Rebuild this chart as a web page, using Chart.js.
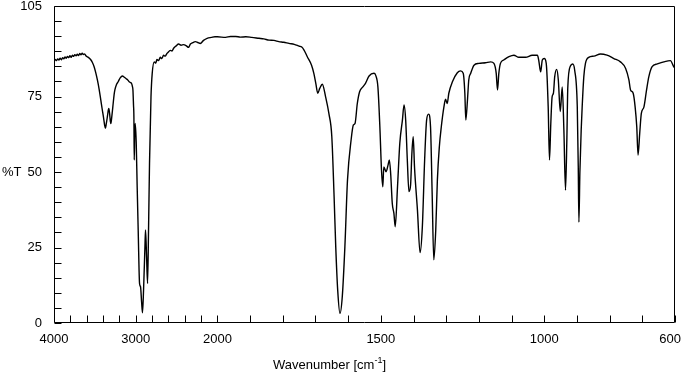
<!DOCTYPE html>
<html>
<head>
<meta charset="utf-8">
<script src="https://cdn.jsdelivr.net/npm/chart.js@4"></script>
<style>
html,body{margin:0;padding:0;background:#fff;}
#wrap{position:relative;width:683px;height:376px;}
</style>
</head>
<body>
<div id="wrap"><canvas id="c" width="683" height="376"></canvas></div>
<script>
// Wavenumber (cm-1) and %T
const wavenumbers = [
4000,3985,3970,3955,3940,3925,3910,3895,3880,3865,3850,3835,3820,3805,3790,3775,3760,3745,3730,3715,
3700,3685,3670,3655,3640,3625,3607,3580,3550,3530,3509,3490,3469,3448,3427,3410,3395,3380,3371,3360,
3346,3335,3329,3320,3310,3304,3295,3280,3265,3255,3235,3215,3190,3162,3140,3120,3100,3080,3060,3052,
3040,3034,3027,3022,3018,3013,3006,2994,2982,2969,2953,2941,2928,2917,2904,2887,2880,2867,2855,2843,
2831,2813,2798,2773,2755,2740,2720,2699,2680,2659,2640,2617,2595,2577,2556,2536,2505,2475,2445,2413,
2385,2352,2331,2300,2270,2240,2209,2170,2126,2073,2030,2000,1975,1960,1944,1930,1913,1895,1873,1858,
1842,1827,1812,1797,1781,1765,1750,1742,1735,1725,1712,1705,1699,1693,1687,1679,1669,1659,1650,1643,
1638,1632,1625,1618,1610,1602,1591,1584,1579,1572,1565,1555,1547,1536,1521,1516,1509,1503,1498,1494,
1491,1484,1478,1474,1470,1465,1460,1456,1449,1442,1434,1429,1424,1419,1414,1409,1405,1401,1397,1388,
1380,1373,1366,1360,1354,1348,1343,1338,1332,1327,1321,1315,1307,1302,1297,1292,1281,1266,1256,1248,
1243,1240,1235,1231,1225,1215,1200,1180,1164,1154,1147,1143,1139,1134,1124,1108,1093,1078,1057,1037,
1021,1017,1011,1006,1000,994,988,984,980,976,972,968,962,957,951,945,940,935,931,928,
920,913,907,899,896,894,891,887,884,879,874,864,848,828,808,787,767,751,741,736,
728,722,717,713,708,703,695,687,680,670,654,634,614,604,600
];
const transmittance = [
86.8,87.3,86.9,87.5,87.1,87.7,87.2,87.9,87.5,88.1,87.7,88.3,87.9,88.5,88.0,88.7,88.3,88.9,88.5,89.0,
88.6,89.3,88.8,89.4,88.9,89.1,88.4,88.0,87.2,86.3,84.9,83.0,80.5,77.5,73.8,70.8,68.3,65.5,64.5,66.0,
68.5,70.6,71.1,69.5,66.8,66.1,67.8,71.6,75.5,77.2,79.0,79.9,81.2,81.8,81.4,81.0,80.6,79.9,79.6,79.4,
78.3,77.2,72.2,68.0,54.0,62.0,66.1,60.0,45.0,30.0,13.1,12.0,7.0,3.4,10.9,25.3,30.8,22.0,13.1,30.8,
52.9,74.9,82.7,86.5,86.1,87.3,86.9,88.0,87.6,88.7,88.4,89.3,89.9,90.3,90.1,91.0,91.8,92.4,92.0,92.2,
91.9,91.3,92.4,92.9,93.2,92.9,92.6,93.6,94.3,94.6,94.8,94.8,94.6,94.9,94.9,94.7,94.8,94.6,94.3,94.1,
93.7,93.6,93.2,93.0,92.6,92.3,91.7,91.4,90.4,88.2,85.4,82.7,79.4,76.1,77.7,79.1,74.9,69.4,61.7,41.8,
25.3,10.9,3.2,8.7,25.3,47.4,60.6,65.6,66.1,72.7,76.6,78.2,79.4,81.8,82.7,82.1,78.2,65.0,50.7,45.1,
51.7,50.1,52.3,54.0,49.6,39.6,36.3,31.9,45.1,59.5,67.2,72.2,67.2,54.0,43.5,45.7,56.2,61.7,51.7,37.4,
23.3,31.9,54.0,67.2,69.2,65.0,42.9,20.9,30.8,47.4,58.4,65.0,71.6,74.1,72.7,76.1,79.9,82.9,83.5,82.7,
76.1,67.2,73.8,80.5,82.7,85.4,86.0,86.2,86.5,86.0,82.7,77.2,82.7,86.0,87.1,88.2,88.7,88.0,88.0,88.7,
88.7,87.1,83.2,87.1,87.6,86.0,71.6,54.0,66.1,74.9,76.1,81.6,84.0,80.5,70.0,78.2,64.0,44.0,60.0,78.0,
85.1,85.8,83.8,71.6,52.0,33.4,50.0,64.0,71.6,81.6,86.0,88.0,88.4,89.1,88.7,87.6,86.5,84.3,80.5,77.2,
76.1,71.6,65.0,55.6,62.8,69.4,71.6,77.2,81.6,84.9,85.8,86.5,86.9,84.9,84.3
];
const xTickValues = [4000,3800,3600,3400,3200,3000,2800,2600,2400,2200,2000,1900,1800,1700,1600,1500,1400,1300,1200,1100,1000,900,800,700,600];
const xLabelValues = [4000,3000,2000,1500,1000,600];
const yTickValues = [0,5,10,15,20,25,30,35,40,45,50,55,60,65,70,75,80,85,90,95,100,105];
const yLabelValues = [0,25,50,75,105];
const xTitle = 'Wavenumber [cm';
const xTitleSup = '-1';
const yTitle = '%T';

const FONT = '13px "Liberation Sans", Arial, sans-serif';

// Wavenumber axis: 4000-2000 compressed 4x relative to 2000-600
class WavenumberScale extends Chart.LinearScale {
  static id = 'wavenumber';
  static defaults = Chart.LinearScale.defaults;
  toUnits(v){ return v >= 2000 ? (4000 - v) / 4 : 500 + (2000 - v); }
  fromUnits(u){ return u <= 500 ? 4000 - 4 * u : 2000 - (u - 500); }
  getPixelForValue(v){ return this.left + this.width * this.toUnits(v) / 1900; }
  getValueForPixel(p){ return this.fromUnits((p - this.left) / this.width * 1900); }
}
Chart.register(WavenumberScale);

const framePlugin = {
  id: 'frame',
  afterDraw(chart){
    const ctx = chart.ctx, a = chart.chartArea, xs = chart.scales.x, ys = chart.scales.y;
    ctx.save();
    ctx.strokeStyle = '#000';
    ctx.lineWidth = 1;
    const L = Math.round(a.left) + 0.5, R = Math.round(a.right) - 0.5;
    const T = Math.round(a.top) + 0.5, B = Math.round(a.bottom) - 0.5;
    ctx.beginPath();
    ctx.rect(L, T, R - L, B - T);
    // inward ticks
    xTickValues.forEach(v => {
      const px = Math.round(xs.getPixelForValue(v)) + 0.5;
      ctx.moveTo(px, B); ctx.lineTo(px, B - 7);
    });
    yTickValues.forEach(v => {
      const py = Math.round(ys.getPixelForValue(v)) + 0.5;
      ctx.moveTo(L, py); ctx.lineTo(L + 7, py);
    });
    ctx.stroke();

    ctx.fillStyle = '#000';
    ctx.font = FONT;
    ctx.textBaseline = 'middle';
    ctx.textAlign = 'center';
    xLabelValues.forEach(v => {
      const s = String(v);
      const w = ctx.measureText(s).width;
      let cx = xs.getPixelForValue(v);
      cx = Math.min(cx, chart.width - 2 - w / 2);
      ctx.fillText(s, cx, 339.5);
    });

    // x title with superscript
    ctx.textAlign = 'left';
    const w1 = ctx.measureText(xTitle).width;
    ctx.font = '9px "Liberation Sans", Arial, sans-serif';
    const w2 = ctx.measureText(xTitleSup).width;
    ctx.font = FONT;
    const w3 = ctx.measureText(']').width;
    const total = w1 + w2 + w3;
    let tx = 329.5 - total / 2;
    const ty = 365;
    ctx.fillText(xTitle, tx, ty);
    ctx.font = '9px "Liberation Sans", Arial, sans-serif';
    ctx.fillText(xTitleSup, tx + w1, ty - 4);
    ctx.font = FONT;
    ctx.fillText(']', tx + w1 + w2, ty);

    // y title
    ctx.fillText(yTitle, 2, ys.getPixelForValue(50));
    ctx.restore();
  }
};

new Chart(document.getElementById('c').getContext('2d'), {
  type: 'line',
  data: {
    datasets: [{
      data: wavenumbers.map((w, i) => ({ x: w, y: transmittance[i] })),
      borderColor: '#000',
      borderWidth: 1.4,
      pointRadius: 0,
      fill: false,
      cubicInterpolationMode: 'monotone'
    }]
  },
  options: {
    responsive: false,
    animation: false,
    events: [],
    layout: { padding: { left: 0, right: 8, top: 6, bottom: 53 } },
    plugins: { legend: { display: false }, tooltip: { enabled: false } },
    scales: {
      x: { type: 'wavenumber', min: 600, max: 4000, display: false },
      y: {
        type: 'linear', min: 0, max: 105,
        afterBuildTicks: s => { s.ticks = yTickValues.map(v => ({ value: v })); },
        afterFit: s => { s.width = 54; s.paddingTop = 0; s.paddingBottom = 0; },
        grid: { display: false, drawTicks: false },
        border: { display: false },
        ticks: {
          autoSkip: false, padding: 12, color: '#000',
          font: { family: '"Liberation Sans", Arial, sans-serif', size: 13 },
          callback: v => yLabelValues.includes(v) ? String(v) : ''
        }
      }
    }
  },
  plugins: [framePlugin]
});
</script>
</body>
</html>
